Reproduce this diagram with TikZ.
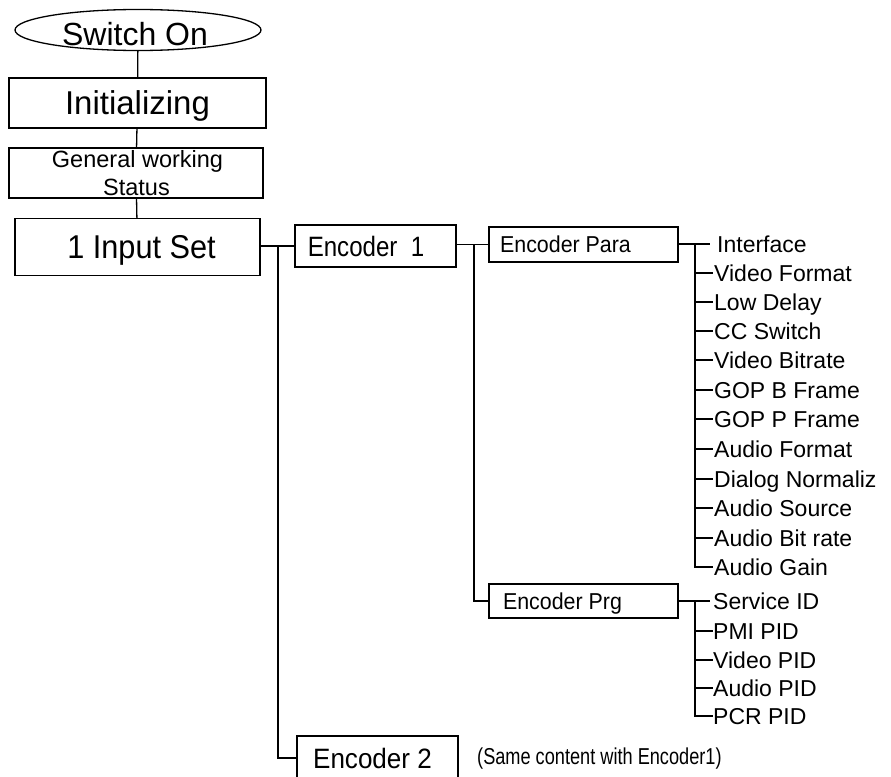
\documentclass[tikz,border=0pt]{standalone}
\usepackage{fontspec}
\setmainfont{Liberation Sans}
\newfontfamily\fA[FakeStretch=0.93]{Liberation Sans}
\newfontfamily\fB[FakeStretch=0.86]{Liberation Sans}
\newfontfamily\fC[FakeStretch=0.79]{Liberation Sans}
\usetikzlibrary{shapes.geometric}
\tikzset{
  ln/.style={line width=1.3pt, line cap=rect},
  box/.style={draw, rectangle, line width=1.3pt, inner sep=0pt, text depth=0pt},
  fs/.style={font=\fontsize{#1pt}{#1pt}\selectfont},
  item/.style={anchor=west, inner sep=0pt, font=\fontsize{23pt}{23pt}\selectfont, text height=16.5pt, text depth=0pt},
}
\begin{document}
\begin{tikzpicture}[x=1pt,y=-1pt]
\useasboundingbox (0,0) rectangle (891,776);
\clip (0,0) rectangle (891,776);
\fill[white] (0,0) rectangle (891,776);

% main column
\node[draw, ellipse, line width=1.3pt, minimum width=246pt, minimum height=41pt, inner sep=0pt] (sw) at (138,30) {};
\node[fs=32, inner sep=0pt, text height=22.5pt, text depth=0pt] (swt) at (135,34) {Switch On};
\node[box, minimum width=257pt, minimum height=50pt, fs=33, text height=23.5pt] (init) at (137.5,103) {Initializing};
\node[box, minimum width=254pt, minimum height=50pt] (gen) at (136,173) {};
\node[fs=23.5, anchor=base, inner sep=0pt] (gen1) at (137.5,167) {General working};
\node[fs=23.5, anchor=base, inner sep=0pt] (gen2) at (136.5,195) {Status};
\node[box, minimum width=245pt, minimum height=57pt, font=\fA\fontsize{33pt}{33pt}\selectfont, text height=23.5pt] (inp) at (137.5,247) {\kern8pt 1 Input Set};

\draw[ln] (sw) -- (init);
\draw[ln] (init) -- (gen);
\draw[ln] (gen) -- (inp);

% encoders
\node[box, minimum width=161pt, minimum height=42pt, font=\fB\fontsize{28pt}{28pt}\selectfont, text height=20pt] (enc1) at (375.5,246) {Encoder\ \ 1\kern19pt};
\node[box, minimum width=161pt, minimum height=44pt, font=\fA\fontsize{28pt}{28pt}\selectfont, text height=20pt] (enc2) at (377.5,758) {Encoder 2\kern10pt};
\node[anchor=west, inner sep=0pt, text height=16.5pt, text depth=0pt, font=\fC\fontsize{23pt}{23pt}\selectfont] (same) at (477,756) {(Same content with Encoder1)};

\coordinate (t1) at (278,246);
\draw[ln] (inp.east |- t1) -- (enc1.west);
\draw[ln] (t1) |- (enc2.west);

% encoder para / prg
\node[box, minimum width=189pt, minimum height=35pt, font=\fA\fontsize{23pt}{23pt}\selectfont, text height=16.5pt] (para) at (583.5,244.5) {Encoder Para\kern36pt};
\node[box, minimum width=189pt, minimum height=34pt, font=\fA\fontsize{23pt}{23pt}\selectfont, text height=16.5pt] (prg) at (583.5,601) {Encoder Prg\kern42pt};

\coordinate (t2) at (474,244.5);
\draw[ln] (enc1.east |- t2) -- (para.west);
\draw[ln] (t2) |- (prg.west);

% parameter items
\node[item] (i1) at (717,244) {Interface};
\node[item] (i2) at (714,273) {Video Format};
\node[item] (i3) at (714,302) {Low Delay};
\node[item] (i4) at (714,331) {CC Switch};
\node[item] (i5) at (714,360) {Video Bitrate};
\node[item] (i6) at (714,390) {GOP B Frame};
\node[item] (i7) at (714,419) {GOP P Frame};
\node[item] (i8) at (714,449) {Audio Format};
\node[item] (i9) at (714,479) {Dialog Normaliz};
\node[item] (i10) at (714,508) {Audio Source};
\node[item] (i11) at (714,538) {Audio Bit rate};
\node[item] (i12) at (714,567) {Audio Gain};

\coordinate (t3) at (695,244);
\draw[ln] (para.east |- i1.west) -- ([xshift=-8pt]i1.west);
\draw[ln] (t3) |- ([xshift=-2pt]i12.west);
\foreach \k in {2,...,11}{
  \draw[ln] (t3 |- i\k.west) -- ([xshift=-2pt]i\k.west);
}

% program items
\node[item] (p1) at (713,601) {Service ID};
\node[item] (p2) at (713,631) {PMI PID};
\node[item] (p3) at (713,660) {Video PID};
\node[item] (p4) at (713,688) {Audio PID};
\node[item] (p5) at (713,716) {PCR PID};

\coordinate (t4) at (695,601);
\draw[ln] (prg.east |- p1.west) -- ([xshift=-4pt]p1.west);
\draw[ln] (t4) |- ([xshift=-1pt]p5.west);
\foreach \k in {2,...,4}{
  \draw[ln] (t4 |- p\k.west) -- ([xshift=-1pt]p\k.west);
}
\end{tikzpicture}
\end{document}
